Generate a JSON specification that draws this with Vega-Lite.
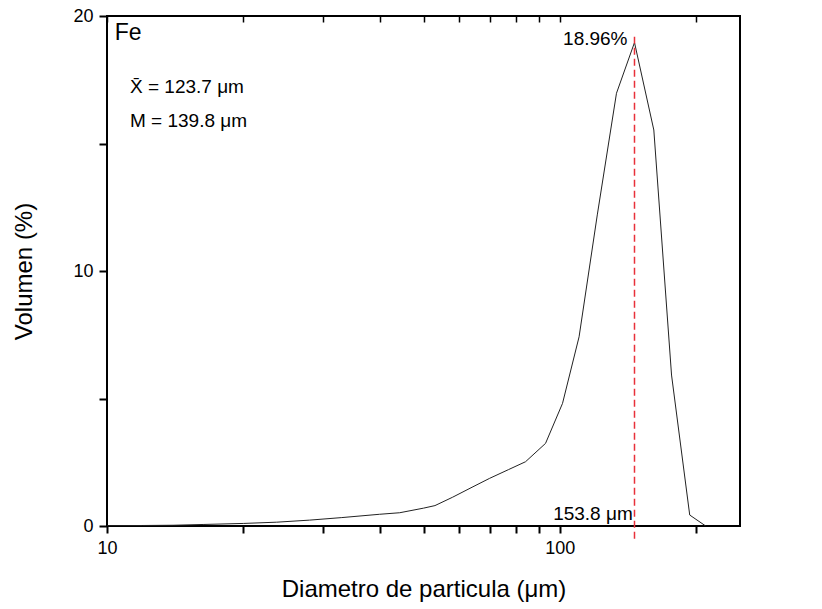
{
  "$schema": "https://vega.github.io/schema/vega-lite/v6.json",
  "autosize": {"type": "none"},
  "width": 633,
  "height": 510,
  "padding": {"left": 107, "top": 16, "right": 82, "bottom": 83},
  "background": "white",
  "config": {
    "font": "Liberation Sans",
    "view": {"stroke": "black", "strokeWidth": 2},
    "axis": {"grid": false, "labelColor": "black", "titleColor": "black", "labelFont": "Liberation Sans", "titleFont": "Liberation Sans", "titleFontWeight": "normal", "labelFlush": false}
  },
  "datasets": {
    "curve": [
      {"d": 10, "v": 0.01},
      {"d": 12, "v": 0.02},
      {"d": 14, "v": 0.03},
      {"d": 16.3, "v": 0.06},
      {"d": 20, "v": 0.1},
      {"d": 23.7, "v": 0.15},
      {"d": 28, "v": 0.23},
      {"d": 33, "v": 0.33},
      {"d": 40, "v": 0.46},
      {"d": 44.3, "v": 0.52},
      {"d": 50, "v": 0.7},
      {"d": 53, "v": 0.8},
      {"d": 58, "v": 1.13},
      {"d": 64, "v": 1.52},
      {"d": 70, "v": 1.87},
      {"d": 77, "v": 2.21},
      {"d": 84, "v": 2.52},
      {"d": 93, "v": 3.24},
      {"d": 101.4, "v": 4.81},
      {"d": 110.3, "v": 7.42},
      {"d": 121, "v": 12.2},
      {"d": 133.4, "v": 16.97},
      {"d": 146.2, "v": 18.96},
      {"d": 161.3, "v": 15.53},
      {"d": 176.5, "v": 5.92},
      {"d": 193.6, "v": 0.43},
      {"d": 210, "v": 0.0}
    ],
    "marker": [{"d": 146.2, "y1": -0.5, "y2": 19.33}],
    "title": [{"d": 10.4, "v": 19.06, "label": "Fe"}],
    "stats": [
      {"d": 11.24, "v": 16.98, "label": "X̄ = 123.7 μm"},
      {"d": 11.24, "v": 15.65, "label": "M = 139.8 μm"}
    ],
    "peak": [
      {"d": 141.1, "v": 18.86, "label": "18.96%"},
      {"d": 144.9, "v": 0.235, "label": "153.8 μm"}
    ]
  },
  "layer": [
    {
      "data": {"name": "curve"},
      "mark": {"type": "line", "color": "#222", "strokeWidth": 1, "clip": true},
      "encoding": {
        "x": {"field": "d", "type": "quantitative", "scale": {"type": "log", "domain": [10, 250], "nice": false},
          "axis": {"orient": "bottom", "values": [10, 20, 30, 40, 50, 60, 70, 80, 90, 100, 200], "format": "d",
            "labelExpr": "datum.value == 10 || datum.value == 100 ? datum.label : ''",
            "domain": false, "tickColor": "black", "tickWidth": 2, "tickSize": 7,
            "grid": true, "gridColor": "black", "gridWidth": 1.5, "gridOpacity": 1, "gridDash": [6, 1000],
            "labelFontSize": 18, "labelPadding": 6, "title": "Diametro de particula (μm)", "titleFontSize": 24, "titlePadding": 20}},
        "y": {"field": "v", "type": "quantitative", "scale": {"domain": [0, 20], "nice": false},
          "axis": {"orient": "left", "values": [0, 5, 10, 15, 20], "domain": false, "grid": false, "tickColor": "black", "tickWidth": 2, "tickSize": 8,
            "labelExpr": "datum.value % 10 == 0 ? datum.label : ''",
            "labelFontSize": 18, "labelPadding": 6, "title": "Volumen (%)", "titleFontSize": 24, "titlePadding": 36}}
      }
    },
    {
      "data": {"name": "marker"},
      "mark": {"type": "rule", "color": "#e8303a", "strokeWidth": 1.5, "strokeDash": [7, 4]},
      "encoding": {
        "x": {"field": "d", "type": "quantitative"},
        "y": {"field": "y1", "type": "quantitative"},
        "y2": {"field": "y2"}
      }
    },
    {
      "data": {"name": "title"},
      "mark": {"type": "text", "align": "left", "baseline": "alphabetic", "fontSize": 23, "color": "black"},
      "encoding": {
        "x": {"field": "d", "type": "quantitative"},
        "y": {"field": "v", "type": "quantitative"},
        "text": {"field": "label"}
      }
    },
    {
      "data": {"name": "stats"},
      "mark": {"type": "text", "align": "left", "baseline": "alphabetic", "fontSize": 19, "color": "black"},
      "encoding": {
        "x": {"field": "d", "type": "quantitative"},
        "y": {"field": "v", "type": "quantitative"},
        "text": {"field": "label"}
      }
    },
    {
      "data": {"name": "peak"},
      "mark": {"type": "text", "align": "right", "baseline": "alphabetic", "fontSize": 19, "color": "black"},
      "encoding": {
        "x": {"field": "d", "type": "quantitative"},
        "y": {"field": "v", "type": "quantitative"},
        "text": {"field": "label"}
      }
    }
  ]
}
